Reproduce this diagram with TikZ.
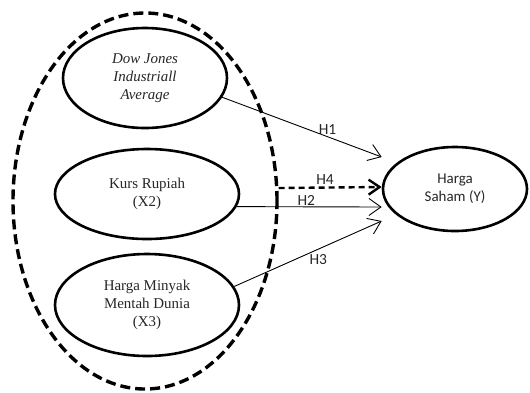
\documentclass[tikz,border=0pt]{standalone}
\usepackage{fontspec}
\setmainfont{Liberation Serif}
\newfontfamily\calibrifont{Carlito}
\usetikzlibrary{shapes.geometric,arrows.meta}

\begin{document}
\begin{tikzpicture}[
        x=1bp, y=-1bp,
        variabel/.style={
            ellipse,
            draw=black,
            line width=2.6bp,
            fill=white,
            inner sep=0pt,
            align=center,
            text=black!85,
            font=\fontsize{15}{18}\selectfont
        },
        kelompok/.style={
            ellipse,
            draw=black,
            line width=3.4bp,
            dash pattern=on 10bp off 5bp,
            minimum width=264bp,
            minimum height=376bp,
            inner sep=0pt
        },
        panah/.style={
            -{Straight Barb[length=12bp, width=17bp]},
            line width=0.9bp,
            draw=black
        },
        panahputus/.style={
            -{Straight Barb[length=11bp, width=15bp]},
            line width=2.4bp,
            dash pattern=on 6bp off 4bp,
            draw=black
        },
        hipotesis/.style={
            font=\calibrifont\fontsize{15.5}{18}\selectfont,
            text=black!85,
            inner sep=2pt
        }
    ]
    \useasboundingbox (0,0) rectangle (530,392);

    % --- Kelompok variabel independen ---
    \node[kelompok] (grup) at (145, 201) {};

    % --- Variabel independen (X) ---
    \node[variabel, minimum width=164bp, minimum height=100bp,
          font=\fontsize{15}{18}\selectfont\itshape] (djia) at (145, 78)
          {Dow Jones\\Industriall\\Average};
    \node[variabel, minimum width=184bp, minimum height=90bp] (kurs) at (147, 194)
          {Kurs Rupiah\\(X2)};
    \node[variabel, minimum width=184bp, minimum height=102bp] (minyak) at (147, 305)
          {Harga Minyak\\Mentah Dunia\\(X3)};

    % --- Variabel dependen (Y) ---
    \node[variabel, minimum width=144bp, minimum height=84bp,
          font=\calibrifont\fontsize{15}{18}\selectfont] (saham) at (455, 189)
          {Harga\\Saham (Y)};

    % Hipotesis
    \draw[panah] (djia.-14) -- node[pos=0.66, above, hipotesis] {H1} ([yshift=32bp]saham.west);
    \draw[panahputus] ([yshift=13bp]grup.east) -- node[pos=0.45, above, hipotesis] {H4} ([yshift=2bp]saham.west);
    \draw[panah] (kurs.-8) -- node[pos=0.48, above=-1pt, hipotesis] {H2} ([yshift=-18bp]saham.west);
    \draw[panah] (minyak.12) -- node[pos=0.57, below=3pt, hipotesis] {H3} ([yshift=-32bp]saham.west);

\end{tikzpicture}
\end{document}
